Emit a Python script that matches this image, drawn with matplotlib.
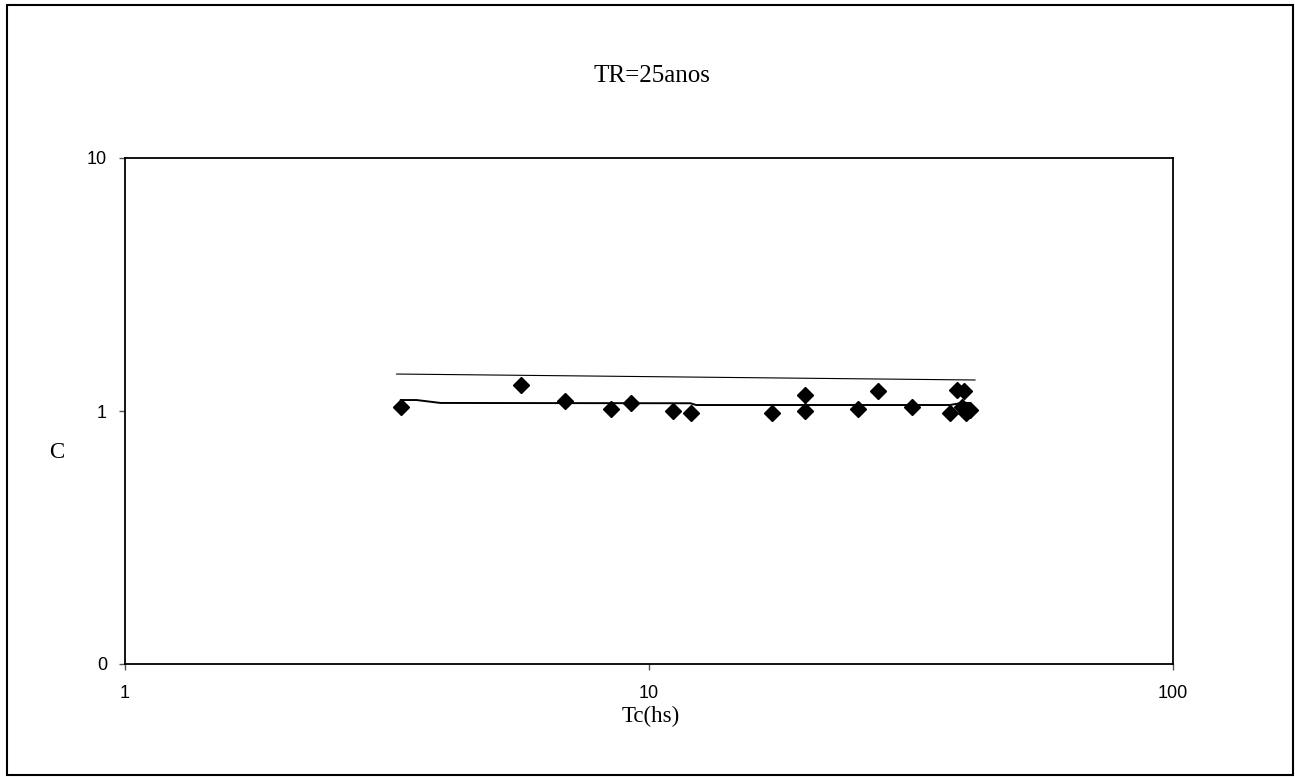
import matplotlib
matplotlib.use("Agg")
import matplotlib.pyplot as plt
from matplotlib.patches import Rectangle

# Observed points (Tc in hours, C)
tc_obs = [3.36, 5.70, 6.91, 8.46, 9.24, 11.11, 12.03, 17.17, 19.85, 19.85,
          25.05, 27.35, 31.76, 37.5, 38.7, 39.9, 39.6, 40.3, 40.9]
c_obs = [1.037, 1.267, 1.095, 1.018, 1.075, 1.0, 0.982, 0.982, 1.157, 1.0,
         1.018, 1.199, 1.037, 0.982, 1.21, 1.2, 1.037, 0.982, 1.01]

# Lower (fitted) line
tc_fit = [3.36, 3.6, 4.0, 12.0, 12.3, 37.5, 39.5, 41.0]
c_fit = [1.105, 1.105, 1.076, 1.073, 1.056, 1.056, 1.076, 1.076]

# Upper line
tc_up = [3.30, 41.9]
c_up = [1.40, 1.326]

x_ticks = [1, 10, 100]
x_labels = ["1", "10", "100"]
y_ticks = [0.1, 1, 10]
y_labels = ["0", "1", "10"]

W, H = 1295, 777
fig = plt.figure(figsize=(W / 100, H / 100), dpi=100)
ax = fig.add_axes([125 / W, 1 - 664 / H, (1173 - 125) / W, (664 - 158) / H])

ax.set_xscale("log")
ax.set_yscale("log")
ax.set_xlim(1, 100)
ax.set_ylim(0.1, 10)

ax.plot(tc_up, c_up, color="black", lw=0.8)
ax.plot(tc_fit, c_fit, color="black", lw=1.4)
ax.plot(tc_obs, c_obs, linestyle="none", marker="D", markersize=8.5,
        color="black")

ax.set_xticks(x_ticks)
ax.set_xticklabels(x_labels)
ax.set_yticks(y_ticks)
ax.set_yticklabels(y_labels)
ax.minorticks_off()
ax.tick_params(axis="both", direction="out", length=4, width=1, color="#555555",
               labelsize=13)
ax.tick_params(axis="x", pad=11)
ax.tick_params(axis="y", pad=9)
for lab in ax.get_xticklabels() + ax.get_yticklabels():
    lab.set_fontfamily("Liberation Sans")
for s in ax.spines.values():
    s.set_linewidth(1.3)
    s.set_color("black")

serif = "Liberation Serif"
fig.text(652 / W, 1 - 76 / H, "TR=25anos", family=serif, fontsize=18,
         ha="center", va="center")
fig.text(57 / W, 1 - 452 / H, "C", family=serif, fontsize=16.5,
         ha="center", va="center")
fig.text(651 / W, 1 - 716 / H, "Tc(hs)", family=serif, fontsize=16.5,
         ha="center", va="center")

fig.patches.append(Rectangle((7 / W, 1 - 775 / H), (1293 - 7) / W, (775 - 5) / H,
                             transform=fig.transFigure, fill=False,
                             edgecolor="black", linewidth=1.5))

fig.savefig("out.png", dpi=100)
